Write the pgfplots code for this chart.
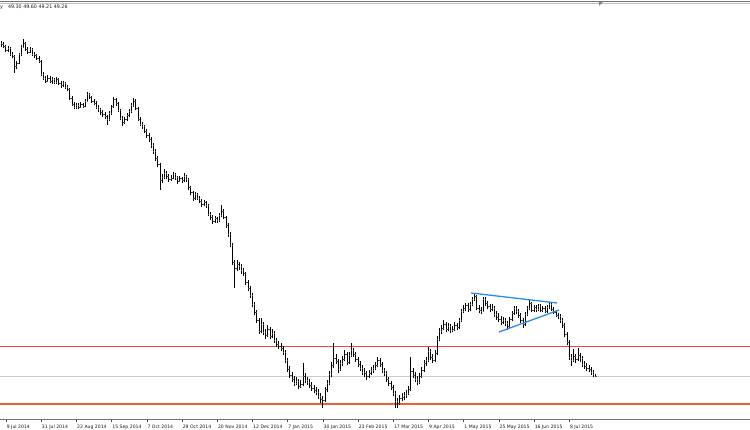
\documentclass[border=0pt]{standalone}
\usepackage{fontspec}
\setmainfont{DejaVu Sans}
\usepackage{pgfplots}
\usepackage{pgfplotstable}
\pgfplotsset{compat=1.18}
\definecolor{lvlred}{RGB}{235,70,70}
\definecolor{lvlorange}{RGB}{236,96,44}
\definecolor{trendblue}{RGB}{40,140,235}
\definecolor{bidgray}{RGB}{205,205,205}
\pgfplotstableread{
i o h l c
-2 115.9 116.3 115.0 115.6
-1 115.6 116.0 114.8 115.2
0 115.2 115.5 114.0 114.4
1 114.4 115.3 114.1 114.9
2 114.9 115.0 113.2 113.6
3 113.6 114.1 112.8 113.3
4 113.3 113.5 109.9 111.2
5 111.2 112.3 110.6 111.9
6 111.9 113.9 111.6 113.6
7 113.6 115.4 113.2 115.1
8 115.1 116.6 114.8 115.8
9 115.8 116.0 114.2 114.6
10 114.6 115.0 113.6 114.0
11 114.0 115.0 113.8 114.6
12 114.6 114.8 113.3 113.7
13 113.7 114.1 112.9 113.4
14 113.4 113.7 112.4 112.8
15 112.8 113.2 111.9 112.3
16 112.3 112.5 109.2 109.6
17 109.6 110.1 108.5 108.9
18 108.9 109.3 107.9 108.3
19 108.3 109.4 108.0 108.9
20 108.9 109.2 107.8 108.2
21 108.2 109.0 107.6 108.6
22 108.6 108.9 107.6 108.0
23 108.0 109.1 107.7 108.7
24 108.7 108.9 107.5 107.9
25 107.9 108.3 106.9 107.4
26 107.4 108.2 107.0 107.8
27 107.8 108.0 106.6 107.0
28 107.0 107.4 106.2 106.6
29 106.6 106.9 104.4 104.8
30 104.8 105.2 103.2 103.6
31 103.6 104.0 102.6 103.0
32 103.0 103.9 102.7 103.5
33 103.5 103.8 102.6 103.1
34 103.1 104.0 102.8 103.6
35 103.6 103.9 102.8 103.3
36 103.3 104.6 103.0 104.2
37 104.2 106.0 104.0 105.6
38 105.6 105.9 104.6 105.0
39 105.0 105.3 103.9 104.3
40 104.3 104.7 103.4 103.9
41 103.9 104.2 102.6 103.0
42 103.0 103.4 102.1 102.6
43 102.6 102.9 101.5 102.0
44 102.0 102.5 101.1 101.6
45 101.6 102.0 100.6 101.2
46 101.2 101.5 99.5 100.6
47 100.6 102.2 100.3 101.8
48 101.8 103.5 101.5 103.2
49 103.2 105.0 102.9 104.6
50 104.6 104.9 103.3 103.8
51 103.8 104.1 102.0 102.4
52 102.4 102.7 100.4 100.8
53 100.8 101.2 99.3 100.0
54 100.0 101.0 99.6 100.6
55 100.6 101.8 100.2 101.4
56 101.4 102.6 101.0 102.2
57 102.2 103.8 101.9 103.4
58 103.4 104.8 103.1 104.3
59 104.3 104.6 102.4 102.8
60 102.8 103.1 100.3 100.7
61 100.7 101.1 99.2 99.6
62 99.6 100.0 98.7 99.2
63 99.2 99.5 97.8 98.3
64 98.3 98.7 96.9 97.4
65 97.4 97.8 96.1 96.6
66 96.6 97.0 94.9 95.4
67 95.4 95.8 93.7 94.2
68 94.2 94.6 92.3 92.8
69 92.8 93.3 91.0 91.6
70 91.6 91.9 86.5 88.4
71 88.4 89.6 87.8 89.0
72 89.0 90.6 88.7 89.8
73 89.8 90.2 88.6 89.2
74 89.2 89.6 88.0 88.7
75 88.7 89.5 88.2 88.9
76 88.9 90.1 88.6 89.6
77 89.6 89.9 88.5 89.0
78 89.0 89.3 87.6 88.3
79 88.3 89.3 88.0 88.8
80 88.8 89.1 87.8 88.4
81 88.4 89.8 88.1 89.2
82 89.2 89.5 88.0 88.6
83 88.6 88.9 86.5 87.0
84 87.0 87.3 85.4 86.0
85 86.0 86.3 84.3 84.8
86 84.8 86.0 84.5 85.6
87 85.6 85.9 84.4 84.9
88 84.9 85.2 83.8 84.3
89 84.3 84.7 83.1 83.6
90 83.6 84.5 83.2 84.0
91 84.0 84.3 82.9 83.4
92 83.4 83.7 81.2 81.6
93 81.6 82.0 80.5 81.0
94 81.0 81.4 79.7 80.2
95 80.2 81.2 79.9 80.8
96 80.8 81.1 79.8 80.4
97 80.4 81.8 80.1 81.4
98 81.4 83.5 81.1 82.3
99 82.3 82.6 80.6 81.0
100 81.0 81.3 78.9 79.4
101 79.4 79.8 77.1 77.6
102 77.6 78.0 75.0 75.5
103 75.5 75.9 71.4 72.0
104 72.0 72.4 66.9 70.8
105 70.8 72.4 70.2 71.6
106 71.6 72.1 70.4 71.2
107 71.2 71.6 69.7 70.4
108 70.4 70.8 69.2 69.8
109 69.8 70.1 67.4 68.0
110 68.0 68.4 66.2 66.8
111 66.8 67.2 64.8 65.4
112 65.4 65.8 63.0 63.6
113 63.6 64.0 61.4 62.0
114 62.0 62.4 59.8 60.4
115 60.4 60.8 57.6 58.2
116 58.2 60.9 57.8 59.6
117 59.6 60.0 57.4 58.0
118 58.0 58.6 56.6 57.4
119 57.4 59.4 57.0 58.6
120 58.6 59.0 56.6 57.2
121 57.2 58.6 56.8 57.8
122 57.8 58.2 55.8 56.4
123 56.4 56.9 55.0 55.6
124 55.6 56.2 54.6 55.2
125 55.2 55.8 54.2 54.8
126 54.8 55.3 53.4 54.0
127 54.0 54.4 51.8 52.4
128 52.4 52.8 50.0 50.6
129 50.6 51.2 48.8 49.4
130 49.4 50.0 48.0 48.6
131 48.6 49.2 47.2 47.8
132 47.8 49.0 47.4 48.2
133 48.2 48.6 46.6 47.2
134 47.2 48.4 46.8 47.6
135 47.6 51.9 47.2 49.2
136 49.2 49.8 47.8 48.4
137 48.4 49.0 47.4 48.0
138 48.0 48.6 46.8 47.4
139 47.4 48.0 46.2 46.8
140 46.8 47.4 45.8 46.4
141 46.4 47.0 45.4 46.0
142 46.0 46.6 44.6 45.2
143 45.2 45.8 43.8 44.6
144 44.6 45.2 42.9 44.4
145 44.4 47.0 44.0 46.6
146 46.6 48.4 46.0 47.8
147 47.8 50.2 47.4 49.6
148 49.6 52.0 49.0 51.4
149 51.4 55.9 50.8 52.8
150 52.8 53.6 51.6 52.2
151 52.2 52.6 49.8 50.6
152 50.6 52.4 50.2 51.8
153 51.8 53.2 51.2 52.6
154 52.6 54.4 52.2 53.6
155 53.6 54.0 51.4 52.0
156 52.0 54.0 51.6 53.4
157 53.4 55.9 53.0 54.4
158 54.4 54.8 53.0 53.6
159 53.6 54.0 52.0 52.6
160 52.6 53.0 51.0 51.6
161 51.6 52.2 50.2 50.8
162 50.8 51.4 49.4 50.0
163 50.0 50.8 49.0 49.8
164 49.8 50.2 48.4 49.2
165 49.2 50.4 48.8 49.8
166 49.8 51.0 49.4 50.4
167 50.4 51.4 49.8 50.8
168 50.8 52.0 50.4 51.4
169 51.4 53.1 51.0 52.4
170 52.4 52.8 51.0 51.6
171 51.6 52.0 49.8 50.4
172 50.4 50.8 49.2 49.8
173 49.8 50.2 48.0 48.6
174 48.6 49.0 47.2 47.8
175 47.8 48.2 46.4 47.0
176 47.0 47.4 45.2 45.8
177 45.8 46.2 42.9 44.2
178 44.2 44.8 42.8 43.8
179 43.8 45.4 43.4 44.8
180 44.8 45.8 44.2 45.0
181 45.0 46.0 44.4 45.4
182 45.4 46.4 44.8 45.8
183 45.8 47.2 45.4 46.6
184 46.6 53.1 46.2 50.2
185 50.2 50.8 48.8 49.4
186 49.4 50.0 48.0 48.6
187 48.6 49.2 47.4 48.0
188 48.0 49.8 47.6 49.2
189 49.2 51.0 48.8 50.4
190 50.4 52.4 50.0 51.8
191 51.8 53.0 51.2 52.4
192 52.4 55.1 52.0 54.2
193 54.2 54.6 52.4 53.0
194 53.0 53.6 51.8 52.4
195 52.4 54.4 52.0 53.8
196 53.8 57.2 53.4 56.6
197 56.6 58.8 56.2 58.2
198 58.2 59.4 57.6 58.8
199 58.8 60.5 58.4 59.6
200 59.6 60.0 58.0 58.6
201 58.6 59.8 58.2 59.2
202 59.2 59.6 57.8 58.4
203 58.4 59.2 58.0 58.6
204 58.6 60.0 58.2 59.4
205 59.4 59.8 58.4 59.0
206 59.0 60.8 58.6 60.4
207 60.4 62.6 60.0 62.2
208 62.2 63.4 61.8 62.8
209 62.8 63.8 62.2 63.4
210 63.4 63.8 62.0 62.6
211 62.6 64.0 62.2 63.6
212 63.6 65.0 63.2 64.6
213 64.6 65.9 64.2 65.2
214 65.2 65.4 62.4 62.8
215 62.8 63.4 61.8 62.4
216 62.4 63.0 61.6 62.2
217 62.2 65.1 62.0 64.6
218 64.6 65.0 63.2 63.8
219 63.8 64.2 62.6 63.2
220 63.2 63.6 62.0 62.6
221 62.6 63.6 62.2 62.8
222 62.8 63.2 61.0 61.6
223 61.6 62.2 60.4 61.0
224 61.0 61.8 60.0 60.6
225 60.6 61.2 59.4 60.0
226 60.0 61.0 59.6 60.4
227 60.4 60.8 59.2 59.8
228 59.8 60.2 58.5 59.2
229 59.2 61.0 58.8 60.6
230 60.6 62.2 60.2 61.8
231 61.8 63.2 61.4 62.8
232 62.8 63.2 61.6 62.2
233 62.2 62.6 60.8 61.4
234 61.4 61.8 59.8 60.4
235 60.4 60.8 58.9 59.6
236 59.6 62.0 59.2 61.6
237 61.6 63.2 61.2 62.8
238 62.8 64.5 62.4 63.8
239 63.8 64.0 62.0 62.4
240 62.4 63.4 62.0 63.0
241 63.0 63.4 62.0 62.6
242 62.6 63.6 62.2 63.2
243 63.2 63.6 62.0 62.4
244 62.4 63.2 62.0 62.8
245 62.8 63.2 61.8 62.2
246 62.2 63.4 61.8 63.0
247 63.0 64.1 62.6 63.6
248 63.6 63.8 62.2 62.6
249 62.6 63.0 61.6 62.0
250 62.0 62.4 61.0 61.4
251 61.4 61.8 60.6 61.2
252 61.2 61.6 59.8 60.4
253 60.4 60.8 58.8 59.4
254 59.4 59.8 57.0 57.6
255 57.6 58.0 55.4 56.0
256 56.0 56.4 52.4 53.0
257 53.0 53.6 51.2 52.4
258 52.4 54.6 52.0 53.2
259 53.2 53.6 51.8 52.6
260 52.6 54.8 52.2 53.4
261 53.4 53.8 52.0 52.8
262 52.8 53.2 51.0 51.6
263 51.6 52.2 50.6 51.2
264 51.2 51.8 50.2 50.8
265 50.8 51.4 50.0 50.6
266 50.6 51.0 49.4 50.0
267 50.0 50.4 49.0 49.6
268 49.30 49.60 49.21 49.26
}\ohlc
\begin{document}
\begin{tikzpicture}
\useasboundingbox (0,0) rectangle (750pt,430pt);
\begin{axis}[
  at={(0pt,11pt)}, anchor=south west,
  scale only axis, width=750pt, height=419pt,
  xmin=-2.727, xmax=338.18,
  ymin=40.7, ymax=124.5,
  axis x line*=bottom, axis y line=none,
  x axis line style={draw=black!55, line width=0.7pt},
  xtick={0,16,...,256},
  xticklabels={9 Jul 2014,31 Jul 2014,22 Aug 2014,15 Sep 2014,7 Oct 2014,29 Oct 2014,20 Nov 2014,12 Dec 2014,7 Jan 2015,30 Jan 2015,23 Feb 2015,17 Mar 2015,9 Apr 2015,1 May 2015,25 May 2015,16 Jun 2015,8 Jul 2015},
  xticklabel style={anchor=north west, inner sep=0pt, xshift=0.6pt, yshift=-2.2pt, font=\fontsize{4.6}{5}\selectfont, text=black!90},
  tick align=outside, major tick length=3.5pt,
  x tick style={draw=black!70, line width=0.6pt},
  clip=false,
]
% horizontal levels
\addplot[draw=lvlred, line width=1pt] coordinates {(-2.727,55.1) (338.18,55.1)};
\addplot[draw=bidgray, line width=0.8pt] coordinates {(-2.727,49.26) (338.18,49.26)};
\addplot[draw=lvlorange, line width=1.2pt] coordinates {(-2.727,43.7) (338.18,43.7)};
% OHLC bars: high-low
\addplot[draw=none, mark=none, error bars/.cd, y dir=plus, y explicit, error mark=none,
  error bar style={draw=black, line width=1pt}]
  table[x=i, y=l, y error expr=\thisrow{h}-\thisrow{l}] {\ohlc};
% open ticks
\addplot[draw=none, mark=none, error bars/.cd, x dir=minus, x fixed=0.4, error mark=none,
  error bar style={draw=black!70, line width=0.6pt}]
  table[x=i, y=o] {\ohlc};
% close ticks
\addplot[draw=none, mark=none, error bars/.cd, x dir=plus, x fixed=0.4, error mark=none,
  error bar style={draw=black!70, line width=0.6pt}]
  table[x=i, y=c] {\ohlc};
% triangle trendlines
\addplot[draw=trendblue, line width=1.3pt] coordinates {(211.4,65.9) (250.5,63.9)};
\addplot[draw=trendblue, line width=1.3pt] coordinates {(224.1,58.1) (251.4,62.5)};
% top border
\draw[black!55, line width=0.8pt] ([yshift=-1pt]rel axis cs:0,1) -- ([yshift=-1pt]rel axis cs:1,1);
\draw[black!25, line width=0.6pt] ([yshift=-3pt]rel axis cs:0,1) -- ([yshift=-3pt]rel axis cs:1,1);
\end{axis}
\node[anchor=west, inner sep=0pt, font=\fontsize{4.8}{5}\selectfont, text=black!90] at (0pt,422.5pt) {y\hspace{5pt}49.30 49.60 49.21 49.26};
\fill[black!50] (599pt,428pt) -- (603pt,428pt) -- (599pt,424pt) -- cycle;
\end{tikzpicture}
\end{document}
